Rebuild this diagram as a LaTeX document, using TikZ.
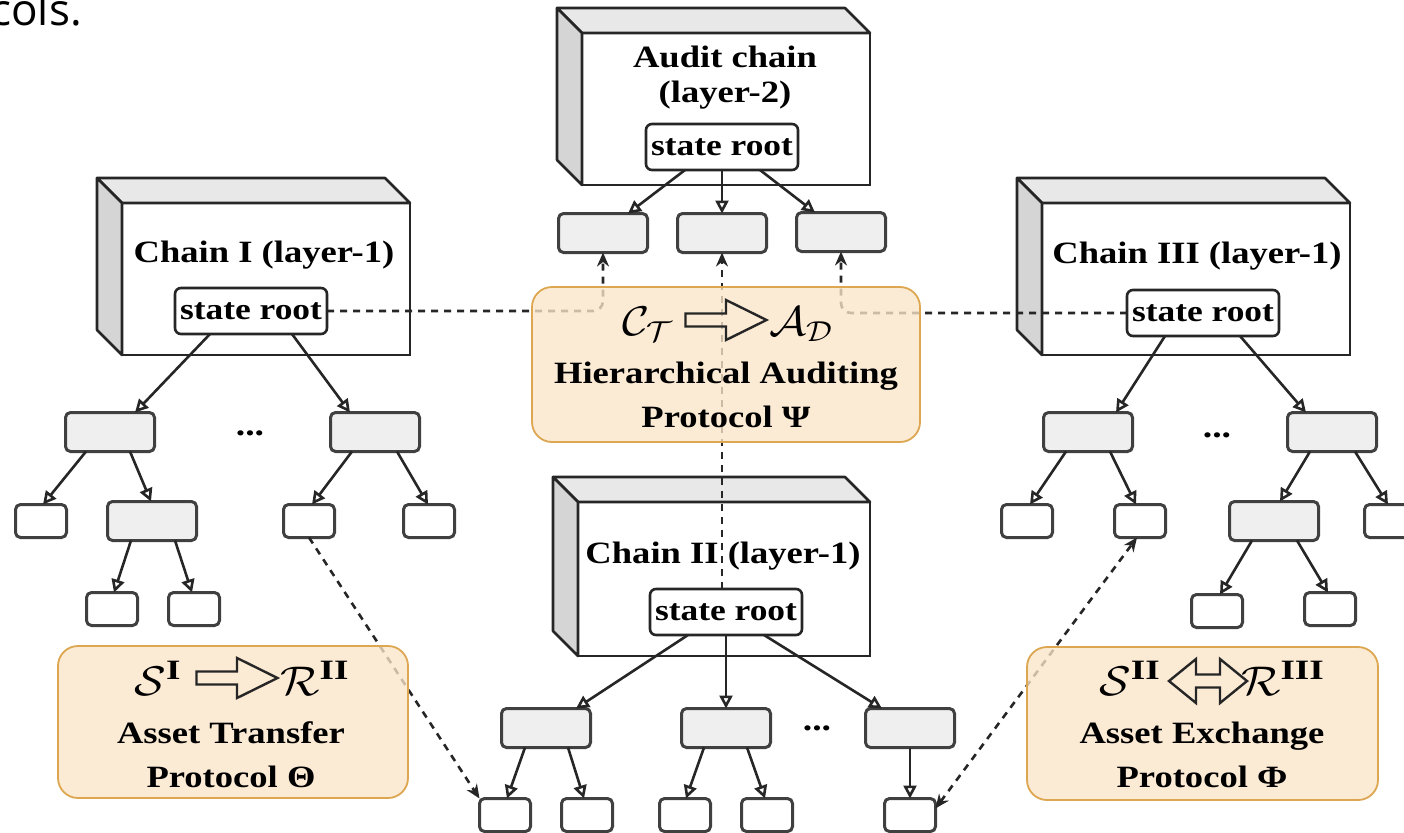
\documentclass[tikz,border=0pt]{standalone}
\usepackage{amsmath}
\usepackage{graphicx}
\usepackage{fontspec}
\setmainfont{Liberation Serif}[FakeStretch=1.18]
\newfontfamily\colsfont{Open Sans}
\usetikzlibrary{arrows.meta,calc}

\definecolor{ink}{HTML}{262626}
\definecolor{boxline}{HTML}{404040}
\definecolor{nodegray}{HTML}{EFEFEF}
\definecolor{topface}{HTML}{E8E8E8}
\definecolor{sideface}{HTML}{D5D5D5}
\definecolor{protofill}{HTML}{FBE5C8}
\definecolor{protoedge}{HTML}{DDA650}

% side and top faces of a chain block, drawn from its front face
\newcommand\slabfaces[1]{%
  \filldraw[face, fill=topface] (#1.north west) -- ++(-25,-25)
    -- ($(#1.north east)+(-25,-25)$) -- (#1.north east) -- cycle;
  \filldraw[face, fill=sideface] (#1.north west) -- ++(-25,-25)
    -- ($(#1.south west)+(-25,-25)$) -- (#1.south west) -- cycle;}

\begin{document}
\begin{tikzpicture}[x=0.5pt,y=-0.5pt,
  face/.style={draw=ink, line width=1.3pt, line join=round},
  front/.style={draw=ink, fill=white, line width=1.3pt, inner sep=0pt, outer sep=0pt},
  title/.style={font=\fontsize{15.5}{17.5}\selectfont\bfseries, align=center, inner sep=0pt},
  sroot/.style={draw=ink, line width=1.3pt, fill=white, rounded corners=3pt,
    minimum width=76pt, minimum height=23pt, inner sep=0pt, outer sep=0pt,
    font=\fontsize{15}{16}\selectfont\bfseries},
  tnode/.style={draw=boxline, line width=1.5pt, rounded corners=2.5pt, inner sep=0pt, outer sep=0pt},
  inner/.style={tnode, fill=nodegray, minimum width=44.5pt, minimum height=19.5pt},
  leaf/.style={tnode, fill=white, minimum width=25.5pt, minimum height=16.5pt},
  tarrow/.style={draw=ink, line width=1.3pt, -{Triangle[length=6.5pt,width=6.5pt,fill=white]}},
  link/.style={draw=ink, line width=1.3pt, dash pattern=on 3.5pt off 3pt,
    -{Stealth[length=7pt,width=6pt]}},
  linkboth/.style={link, {Stealth[length=7pt,width=6pt]}-{Stealth[length=7pt,width=6pt]}},
  dots/.style={font=\fontsize{16}{16}\selectfont\bfseries, inner sep=0pt},
  proto/.style={draw=protoedge, line width=0.9pt, fill=protofill, fill opacity=0.78,
    draw opacity=1, rounded corners=10pt, inner sep=0pt, outer sep=0pt},
  prototext/.style={align=center, font=\fontsize{15.5}{22}\selectfont\bfseries, inner sep=0pt},
  formula/.style={font=\fontsize{20}{22}\selectfont, inner sep=0pt},
  hollow arrow/.pic={\draw[draw=ink, line width=1.2pt, line join=miter]
    (-40.5,-6.5) -- (0,-6.5) -- (0,-20) -- (40.5,0) -- (0,20) -- (0,6.5) -- (-40.5,6.5) -- cycle;},
  hollow double arrow/.pic={\draw[draw=ink, line width=1.2pt, line join=miter]
    (-39,0) -- (-12,-22) -- (-12,-6.5) -- (12,-6.5) -- (12,-22) -- (39,0)
    -- (12,22) -- (12,6.5) -- (-12,6.5) -- (-12,22) -- cycle;}
]
\useasboundingbox (0,0) rectangle (1404,832);
\clip (0,0) rectangle (1404,832);

% tail of the preceding sentence
\node[anchor=base west, font=\colsfont\fontsize{22}{24}\selectfont, inner sep=0pt] (cols) at (-10,25) {cols.};

% chain blocks
\node[front, minimum width=144pt, minimum height=76pt] (audit) at (726,109) {};
\slabfaces{audit}
\node[front, minimum width=144pt, minimum height=76pt] (chainI) at (266,279) {};
\slabfaces{chainI}
\node[front, minimum width=154pt, minimum height=76pt] (chainIII) at (1196,279) {};
\slabfaces{chainIII}
\node[front, minimum width=146pt, minimum height=77pt] (chainII) at (724,579) {};
\slabfaces{chainII}

% block titles (base = last line)
\node[title, anchor=base] (tA) at (725,102) {Audit chain\\(layer-2)};
\node[title, anchor=base] (tI) at (264,262) {Chain I (layer-1)};
\node[title, anchor=base] (tIII) at (1197,263) {Chain III (layer-1)};
\node[title, anchor=base] (tII) at (723,563) {Chain II (layer-1)};

% state roots
\node[sroot] (ra) at (722,147) {state root};
\node[sroot] (r1) at (251,311) {state root};
\node[sroot] (r3) at (1203,313) {state root};
\node[sroot] (r2) at (726,612) {state root};

% audit chain entries
\node[inner] (a1) at (603,233) {};
\node[inner] (a2) at (722,233) {};
\node[inner] (a3) at (841,232) {};

% chain I tree
\node[inner] (g11) at (110,432) {};
\node[inner] (g12) at (375,432) {};
\node[dots] (dI) at (250,433) {...};
\node[leaf] (l111) at (41,521) {};
\node[inner] (g112) at (152,521) {};
\node[leaf] (l121) at (309,521) {};
\node[leaf] (l122) at (429,521) {};
\node[leaf] (l1121) at (112,609) {};
\node[leaf] (l1122) at (194,609) {};

% chain III tree
\node[inner] (g31) at (1088,432) {};
\node[inner] (g32) at (1332,432) {};
\node[dots] (dIII) at (1217,435) {...};
\node[leaf] (l311) at (1027,521) {};
\node[leaf] (l312) at (1140,521) {};
\node[inner] (g321) at (1274,521) {};
\node[leaf] (l322) at (1390,521) {};
\node[leaf] (l3211) at (1217,611) {};
\node[leaf] (l3212) at (1330,609) {};

% chain II tree
\node[inner] (g21) at (546,728) {};
\node[inner] (g22) at (726,728) {};
\node[inner] (g23) at (910,728) {};
\node[dots] (dII) at (817,728) {...};
\node[leaf] (l21) at (505,815) {};
\node[leaf] (l22) at (587,815) {};
\node[leaf] (l23) at (685,815) {};
\node[leaf] (l24) at (767,815) {};
\node[leaf] (l25) at (910,815) {};

% tree edges
\draw[tarrow] ($(ra.south)+(-37,0)$) -- ($(a1.north)+(25,0)$);
\draw[tarrow] (ra.south) -- (a2.north);
\draw[tarrow] ($(ra.south)+(38,0)$) -- ($(a3.north)+(-26,0)$);

\draw[tarrow] ($(r1.south)+(-41,0)$) -- ($(g11.north)+(25,0)$);
\draw[tarrow] ($(r1.south)+(41,0)$) -- ($(g12.north)+(-25,0)$);
\draw[tarrow] ($(g11.south)+(-24,0)$) -- ($(l111.north)+(2,0)$);
\draw[tarrow] ($(g11.south)+(20,0)$) -- ($(g112.north)+(-1,0)$);
\draw[tarrow] ($(g112.south)+(-21,0)$) -- ($(l1121.north)+(2,0)$);
\draw[tarrow] ($(g112.south)+(23,0)$) -- ($(l1122.north)+(-2,0)$);
\draw[tarrow] ($(g12.south)+(-23,0)$) -- ($(l121.north)+(3,0)$);
\draw[tarrow] ($(g12.south)+(22,0)$) -- ($(l122.north)+(-1,0)$);

\draw[tarrow] ($(r3.south)+(-38,0)$) -- ($(g31.north)+(28,0)$);
\draw[tarrow] ($(r3.south)+(37,0)$) -- ($(g32.north)+(-26,0)$);
\draw[tarrow] ($(g31.south)+(-22,0)$) -- ($(l311.north)+(3,0)$);
\draw[tarrow] ($(g31.south)+(22,0)$) -- ($(l312.north)+(-4,0)$);
\draw[tarrow] ($(g32.south)+(-22,0)$) -- ($(g321.north)+(6,0)$);
\draw[tarrow] ($(g32.south)+(23,0)$) -- ($(l322.north)+(-2,0)$);
\draw[tarrow] ($(g321.south)+(-22,0)$) -- ($(l3211.north)+(3,0)$);
\draw[tarrow] ($(g321.south)+(23,0)$) -- ($(l3212.north)+(-2,0)$);

\draw[tarrow] ($(r2.south)+(-38,0)$) -- ($(g21.north)+(30,0)$);
\draw[tarrow] (r2.south) -- (g22.north);
\draw[tarrow] ($(r2.south)+(38,0)$) -- ($(g23.north)+(-28,0)$);
\draw[tarrow] ($(g21.south)+(-21,0)$) -- ($(l21.north)+(2,0)$);
\draw[tarrow] ($(g21.south)+(22,0)$) -- ($(l22.north)+(-3,0)$);
\draw[tarrow] ($(g22.south)+(-22,0)$) -- ($(l23.north)+(1,0)$);
\draw[tarrow] ($(g22.south)+(21,0)$) -- ($(l24.north)+(-2,0)$);
\draw[tarrow] (g23.south) -- (l25.north);

% cross-chain links
\draw[link, rounded corners=5pt] (r1.east) -- (a1.south |- r1.east) -- (a1.south);
\draw[link, rounded corners=5pt] (r3.west) -- (a3.south |- r3.west) -- (a3.south);
\draw[link] (a2.south |- r2.north) -- (a2.south);
\draw[link] (l121.south) -- (l21.north west);
\draw[linkboth] ($(l25.north east)!0.3!(l25.south east)$) -- ($(l312.south)+(-3,0)$);

% protocol panels
\node[proto, minimum width=194pt, minimum height=77.5pt] (hap) at (726,364.5) {};
\node[formula, anchor=base] (hc) at (648,335) {\scalebox{1.12}[1]{$\mathcal{C}_{\mathcal{T}}$}};
\pic at (726,320) {hollow arrow};
\node[formula, anchor=base] (hd) at (801,335) {\scalebox{1.12}[1]{$\mathcal{A}_{\mathcal{D}}$}};
\node[prototext, anchor=base] (htext) at (726,427) {Hierarchical Auditing\\Protocol Ψ};

\node[proto, minimum width=175pt, minimum height=76pt] (atp) at (233,722) {};
\node[formula, anchor=base] (ts) at (158,695) {\scalebox{1.12}[1]{$\mathcal{S}^{\text{\bfseries I}}$}};
\pic at (237,678) {hollow arrow};
\node[formula, anchor=base] (tr) at (315,695) {\scalebox{1.12}[1]{$\mathcal{R}^{\text{\bfseries II}}$}};
\node[prototext, anchor=base] (ttext) at (231,787) {Asset Transfer\\Protocol Θ};

\node[proto, minimum width=175.5pt, minimum height=76.5pt] (aep) at (1202.5,723.5) {};
\node[formula, anchor=base] (es) at (1130,695) {\scalebox{1.12}[1]{$\mathcal{S}^{\text{\bfseries II}}$}};
\pic at (1208,681) {hollow double arrow};
\node[formula, anchor=base] (er) at (1283,695) {\scalebox{1.12}[1]{$\mathcal{R}^{\text{\bfseries III}}$}};
\node[prototext, anchor=base] (etext) at (1202,787) {Asset Exchange\\Protocol Φ};
\end{tikzpicture}
\end{document}
